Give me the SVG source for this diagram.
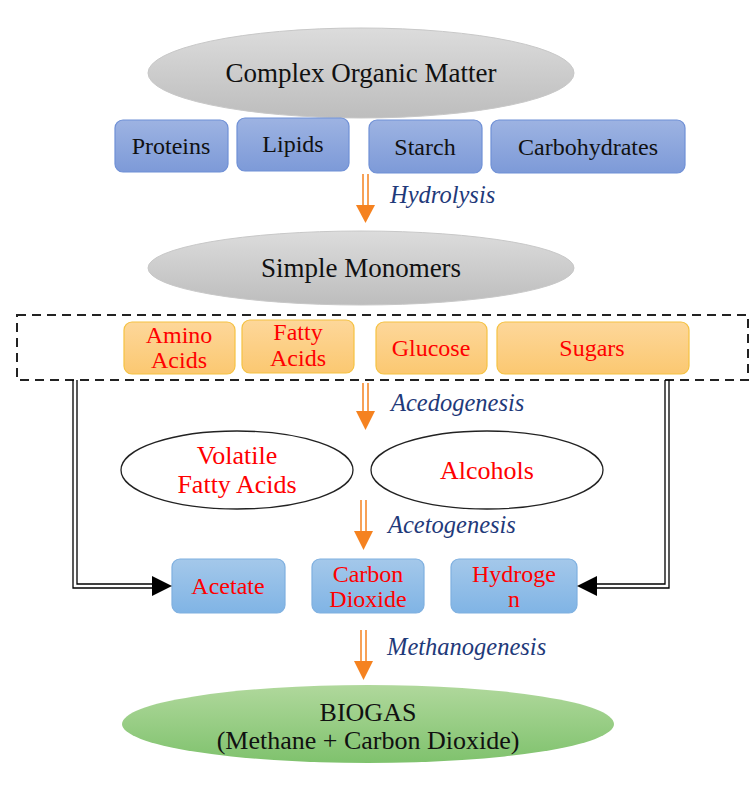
<svg xmlns="http://www.w3.org/2000/svg" width="756" height="785" viewBox="0 0 756 785">
<defs>
<linearGradient id="gGray" x1="0" y1="0" x2="0" y2="1"><stop offset="0" stop-color="#dcdcdc"/><stop offset="1" stop-color="#bdbdbd"/></linearGradient>
<linearGradient id="gBlue" x1="0" y1="0" x2="0" y2="1"><stop offset="0" stop-color="#9db3e2"/><stop offset="1" stop-color="#7d9ad8"/></linearGradient>
<linearGradient id="gOrange" x1="0" y1="0" x2="0" y2="1"><stop offset="0" stop-color="#fdd79a"/><stop offset="1" stop-color="#fbc871"/></linearGradient>
<linearGradient id="gLBlue" x1="0" y1="0" x2="0" y2="1"><stop offset="0" stop-color="#a4c8ea"/><stop offset="1" stop-color="#80b4e5"/></linearGradient>
<linearGradient id="gGreen" x1="0" y1="0" x2="0" y2="1"><stop offset="0" stop-color="#b0d89c"/><stop offset="1" stop-color="#7fc26d"/></linearGradient>
</defs>
<style>
.t{font-family:"Liberation Serif","Times New Roman",serif;font-size:24px;text-anchor:middle;fill:#111}
.big{font-size:27px}
.r{fill:#ff0000}
.re{font-size:26px}
.lab{font-family:"Liberation Serif","Times New Roman",serif;font-size:24.5px;font-style:italic;fill:#1f3a7a}
.bb{fill:url(#gBlue);stroke:#6f90d6;stroke-width:1.2}
.ob{fill:url(#gOrange);stroke:#f5c242;stroke-width:1.2}
.lb{fill:url(#gLBlue);stroke:#7fb0e0;stroke-width:1.2}
.sh{stroke:#f58220;stroke-width:1.5;fill:none}
.hd{fill:#f58220}
.bl{stroke:#000;stroke-width:1.3;fill:none}
</style>

<g id="complex">
<ellipse cx="361" cy="73" rx="213" ry="45" fill="url(#gGray)" stroke="#c8c8c8"/>
<text class="t big" x="361" y="82">Complex Organic Matter</text>
</g>
<g id="proteins"><rect class="bb" x="115" y="120" width="113" height="52" rx="8"/><text class="t" x="171" y="154">Proteins</text></g>
<g id="lipids"><rect class="bb" x="237" y="118" width="112" height="53" rx="8"/><text class="t" x="293" y="152">Lipids</text></g>
<g id="starch"><rect class="bb" x="369" y="120" width="113" height="53" rx="8"/><text class="t" x="425" y="155">Starch</text></g>
<g id="carbohydrates"><rect class="bb" x="491" y="120" width="194" height="53" rx="8"/><text class="t" x="588" y="155">Carbohydrates</text></g>

<g id="monomers">
<ellipse cx="361" cy="268" rx="213" ry="37" fill="url(#gGray)" stroke="#c8c8c8"/>
<text class="t big" x="361" y="277">Simple Monomers</text>
</g>

<g id="groupbox"><rect x="17" y="315" width="731" height="65" fill="none" stroke="#222" stroke-width="2" stroke-dasharray="9,6"/></g>
<g id="amino"><rect class="ob" x="124" y="322" width="111" height="52" rx="8"/><text class="t r" x="179" y="343">Amino</text><text class="t r" x="179" y="368">Acids</text></g>
<g id="fatty"><rect class="ob" x="242" y="320" width="112" height="53" rx="8"/><text class="t r" x="298" y="340">Fatty</text><text class="t r" x="298" y="366">Acids</text></g>
<g id="glucose"><rect class="ob" x="376" y="322" width="111" height="52" rx="8"/><text class="t r" x="431" y="356">Glucose</text></g>
<g id="sugars"><rect class="ob" x="497" y="322" width="192" height="52" rx="8"/><text class="t r" x="592" y="356">Sugars</text></g>

<g id="vfa"><ellipse cx="237" cy="470" rx="116" ry="39" fill="#fff" stroke="#222" stroke-width="1.3"/><text class="t r re" x="237" y="464">Volatile</text><text class="t r re" x="237" y="493">Fatty Acids</text></g>
<g id="alcohols"><ellipse cx="487" cy="470" rx="116" ry="39" fill="#fff" stroke="#222" stroke-width="1.3"/><text class="t r re" x="487" y="479">Alcohols</text></g>

<g id="acetate"><rect class="lb" x="172" y="559" width="113" height="54" rx="8"/><text class="t r" x="228" y="594">Acetate</text></g>
<g id="co2"><rect class="lb" x="312" y="559" width="112" height="54" rx="8"/><text class="t r" x="368" y="582">Carbon</text><text class="t r" x="368" y="607">Dioxide</text></g>
<g id="hydrogen"><rect class="lb" x="451" y="559" width="126" height="54" rx="8"/><text class="t r" x="514" y="582">Hydroge</text><text class="t r" x="514" y="607">n</text></g>

<g id="biogas">
<ellipse cx="368" cy="724" rx="246" ry="39" fill="url(#gGreen)"/>
<text class="t re" x="368" y="721">BIOGAS</text>
<text class="t re" x="368" y="749">(Methane + Carbon Dioxide)</text>
</g>

<g id="connectors">
<path class="sh" d="M363 174V206M368 174V206"/><polygon class="hd" points="356,205 375,205 365.5,223"/>
<path class="sh" d="M363 383V412M368 383V412"/><polygon class="hd" points="356,411 375,411 365.5,430"/>
<path class="sh" d="M361 500V532M366 500V532"/><polygon class="hd" points="354,531 373,531 363.5,550"/>
<path class="sh" d="M361 630V662M366 630V662"/><polygon class="hd" points="354,661 373,661 363.5,680"/>
<path class="bl" d="M73 380V588H154M77 380V584H154"/>
<polygon points="152,576 172,586 152,596" fill="#000"/>
<path class="bl" d="M669 380V588H595M665 380V584H595"/>
<polygon points="597,576 577,586 597,596" fill="#000"/>
</g>

<text class="lab" x="390" y="203">Hydrolysis</text>
<text class="lab" x="391" y="411">Acedogenesis</text>
<text class="lab" x="388" y="533">Acetogenesis</text>
<text class="lab" x="387" y="655">Methanogenesis</text>
</svg>
